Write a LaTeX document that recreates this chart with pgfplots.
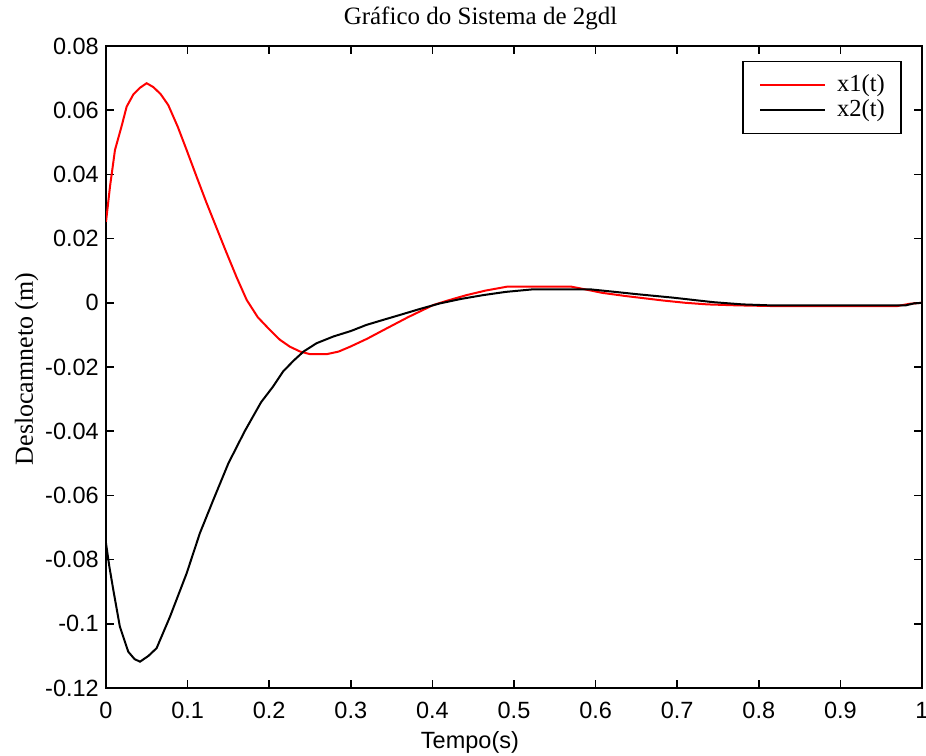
\documentclass[border=0pt]{standalone}
\usepackage{pgfplots}
\pgfplotsset{compat=1.18}
\usepackage{fontspec}
\setmainfont{Liberation Serif}
\newfontfamily\arialf{Liberation Sans}
\begin{document}
\begin{tikzpicture}
\path[use as bounding box] (0,0) rectangle (926bp,756bp);
\begin{axis}[
  at={(106bp,68bp)}, anchor=south west,
  scale only axis, width=816bp, height=642bp,
  xmin=0, xmax=1, ymin=-0.12, ymax=0.08,
  axis line style={line width=2bp},
  tick align=inside, major tick length=8bp,
  every tick/.style={black, line width=1.5bp},
  xtick={0,0.1,0.2,0.3,0.4,0.5,0.6,0.7,0.8,0.9,1},
  xticklabels={0,0.1,0.2,0.3,0.4,0.5,0.6,0.7,0.8,0.9,1},
  ytick={-0.12,-0.1,-0.08,-0.06,-0.04,-0.02,0,0.02,0.04,0.06,0.08},
  yticklabels={-0.12,-0.1,-0.08,-0.06,-0.04,-0.02,0,0.02,0.04,0.06,0.08},
  xticklabel style={font=\arialf\fontsize{23.5bp}{27bp}\selectfont, anchor=base, inner sep=0pt, yshift=-30bp},
  yticklabel style={font=\arialf\fontsize{23.5bp}{27bp}\selectfont, anchor=east, inner sep=0pt, xshift=-7bp},
  title={Gráfico do Sistema de 2gdl},
  title style={at={(axis description cs:0.459,1.0249)}, anchor=base, inner sep=0pt, font=\fontsize{25bp}{29bp}\selectfont},
  xlabel={Tempo(s)},
  xlabel style={at={(axis description cs:0.446,-0.0935)}, anchor=base, inner sep=0pt, font=\arialf\fontsize{23.5bp}{27bp}\selectfont},
  ylabel={Deslocamneto (m)},
  ylabel style={at={(axis description cs:-0.0895,0.497)}, rotate=0, anchor=base, inner sep=0pt, font=\fontsize{26bp}{30bp}\selectfont},
  legend style={at={(axis description cs:0.975,0.977)}, anchor=north east, draw=black, line width=1.5bp,
    font=\fontsize{24.5bp}{28bp}\selectfont, inner xsep=16bp, inner ysep=11.5bp, row sep=1bp,
    nodes={inner sep=0pt, text height=18bp, text depth=6bp}},
  legend cell align=left,
  legend image code/.code={\draw[#1, line width=2bp] (0bp,0bp) -- (65bp,0bp); \path (76bp,0bp);},
]
\addplot[red, line width=2bp] coordinates {
(0,0.0252) (0.0049,0.0362) (0.011,0.0476) (0.019,0.0549) (0.0253,0.0611)
(0.0335,0.0649) (0.0417,0.0670) (0.0498,0.0684) (0.058,0.0672) (0.067,0.0650) (0.0763,0.0616)
(0.088,0.0548) (0.0988,0.0476) (0.111,0.0393) (0.1234,0.031) (0.136,0.023) (0.148,0.0154)
(0.160,0.0080) (0.1724,0.0009) (0.186,-0.0045) (0.201,-0.0085) (0.213,-0.0115) (0.2255,-0.0137)
(0.238,-0.0152) (0.25,-0.0160) (0.2705,-0.016) (0.285,-0.0152) (0.299,-0.0137) (0.32,-0.0112)
(0.34,-0.0085) (0.37,-0.0045) (0.401,-0.0007) (0.42,0.0008) (0.442,0.0024) (0.465,0.0038)
(0.491,0.005) (0.5707,0.005) (0.585,0.0043) (0.608,0.0031) (0.637,0.0021) (0.66,0.0014)
(0.683,0.0007) (0.71,0.0000) (0.737,-0.0005) (0.773,-0.0008) (0.814,-0.001) (0.97,-0.001)
(0.985,-0.0003) (1.0,0.0)
};
\addlegendentry{x1(t)}
\addplot[black, line width=2bp] coordinates {
(0,-0.0749) (0.004,-0.082) (0.009,-0.0895) (0.017,-0.1009) (0.0273,-0.1087) (0.035,-0.1110)
(0.0417,-0.1118) (0.052,-0.1100) (0.062,-0.1076) (0.0784,-0.0978) (0.0988,-0.0843) (0.115,-0.0718)
(0.1315,-0.0614) (0.15,-0.050) (0.17,-0.040) (0.19,-0.031) (0.205,-0.026) (0.217,-0.0214)
(0.23,-0.018) (0.242,-0.0152) (0.258,-0.0126) (0.2786,-0.0105) (0.30,-0.0088) (0.319,-0.0069)
(0.34,-0.0053) (0.36,-0.0038) (0.385,-0.0019) (0.409,-0.0002) (0.435,0.0012) (0.4624,0.0024)
(0.49,0.0034) (0.5236,0.0042) (0.593,0.0042) (0.62,0.0035) (0.65,0.0027) (0.695,0.0016)
(0.744,0.0002) (0.78,-0.0005) (0.814,-0.0008) (0.98,-0.0008) (0.99,-0.0002) (1.0,0.0)
};
\addlegendentry{x2(t)}
\end{axis}
\end{tikzpicture}
\end{document}
